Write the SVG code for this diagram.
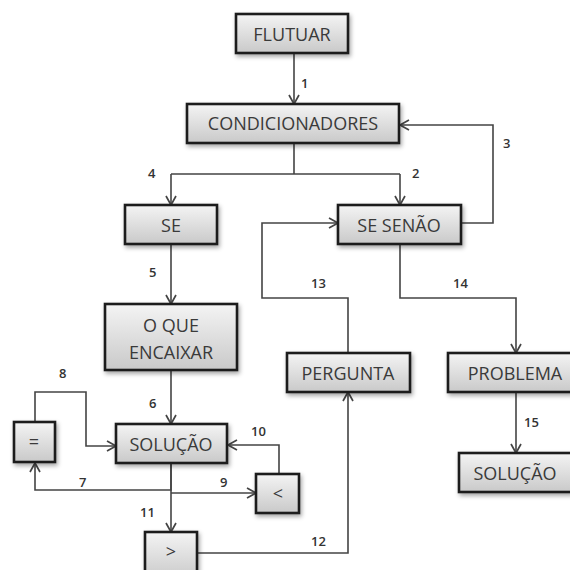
<svg xmlns="http://www.w3.org/2000/svg" width="570" height="570" viewBox="0 0 570 570">
<defs>
<linearGradient id="g" x1="0" y1="0" x2="0" y2="1">
<stop offset="0" stop-color="#f4f4f4"/>
<stop offset="1" stop-color="#c9c9c9"/>
</linearGradient>
<filter id="sh" x="-20%" y="-20%" width="150%" height="160%">
<feDropShadow dx="1.5" dy="2.5" stdDeviation="2" flood-color="#000" flood-opacity="0.35"/>
</filter>
<marker id="ah" markerUnits="userSpaceOnUse" markerWidth="12" markerHeight="14" refX="10" refY="6" orient="auto" viewBox="0 0 12 12">
<path d="M1,1 L10,6 L1,11" fill="none" stroke="#444" stroke-width="1.7"/>
</marker>
</defs>
<style>
rect.b{fill:url(#g);stroke:#1c1c1c;stroke-width:2.6;filter:url(#sh)}
text.t{font-family:"Open Sans","Liberation Sans",sans-serif;font-size:18px;fill:#3a3a3a;text-anchor:middle}
text.n{font-family:"Open Sans","Liberation Sans",sans-serif;font-size:13px;fill:#333;font-weight:600}
path.c{fill:none;stroke:#444;stroke-width:1.6}
path.a{marker-end:url(#ah)}
</style>
<rect width="570" height="570" fill="#fff"/>
<g id="connectors">
<path class="c a" d="M294,53 V104"/>
<path class="c" d="M294,143 V174 M171,174 H400"/>
<path class="c a" d="M171,174 V205"/>
<path class="c a" d="M400,174 V205"/>
<path class="c a" d="M461,223 H493 V125 H400"/>
<path class="c a" d="M171,244 V304"/>
<path class="c a" d="M171,370 V424"/>
<path class="c a" d="M171,463 V490 H35 V463"/>
<path class="c a" d="M35,422 V392 H86 V446 H116"/>
<path class="c a" d="M171,493 H256"/>
<path class="c a" d="M279,474 V445 H228"/>
<path class="c a" d="M171,463 V532"/>
<path class="c a" d="M197,553 H348 V392"/>
<path class="c a" d="M348,353 V298 H262 V223 H338"/>
<path class="c a" d="M400,244 V298 H516 V353"/>
<path class="c a" d="M516,392 V453"/>
<text class="n" x="301" y="88">1</text>
<text class="n" x="412" y="178">2</text>
<text class="n" x="503" y="148">3</text>
<text class="n" x="148" y="178">4</text>
<text class="n" x="149" y="277">5</text>
<text class="n" x="149" y="408">6</text>
<text class="n" x="79" y="487">7</text>
<text class="n" x="59" y="378">8</text>
<text class="n" x="220" y="487">9</text>
<text class="n" x="251" y="436">10</text>
<text class="n" x="140" y="517">11</text>
<text class="n" x="311" y="546">12</text>
<text class="n" x="311" y="288">13</text>
<text class="n" x="453" y="288">14</text>
<text class="n" x="524" y="427">15</text>
</g>
<g id="flutuar"><rect class="b" x="236" y="14" width="112" height="39"/><text class="t" x="292" y="40.5">FLUTUAR</text></g>
<g id="condicionadores"><rect class="b" x="187" y="104" width="212" height="39"/><text class="t" x="293" y="130">CONDICIONADORES</text></g>
<g id="se"><rect class="b" x="125" y="205" width="92" height="39"/><text class="t" x="171" y="231.5">SE</text></g>
<g id="se-senao"><rect class="b" x="338" y="205" width="123" height="39"/><text class="t" x="399" y="231.5">SE SENÃO</text></g>
<g id="o-que-encaixar"><rect class="b" x="105" y="304" width="132" height="66"/><text class="t" x="171" y="331.5">O QUE</text><text class="t" x="171" y="358.5">ENCAIXAR</text></g>
<g id="pergunta"><rect class="b" x="287" y="353" width="123" height="39"/><text class="t" x="348" y="379.5">PERGUNTA</text></g>
<g id="problema"><rect class="b" x="448" y="353" width="134" height="39"/><text class="t" x="515" y="379.5">PROBLEMA</text></g>
<g id="igual"><rect class="b" x="14" y="422" width="41" height="40"/><text class="t" x="34" y="448">=</text></g>
<g id="solucao"><rect class="b" x="116" y="424" width="111" height="39"/><text class="t" x="171" y="450.5">SOLUÇÃO</text></g>
<g id="menor"><rect class="b" x="256" y="474" width="43" height="39"/><text class="t" x="278" y="500">&lt;</text></g>
<g id="maior"><rect class="b" x="145" y="532" width="52" height="48"/><text class="t" x="171" y="558">&gt;</text></g>
<g id="solucao2"><rect class="b" x="459" y="453" width="113" height="39"/><text class="t" x="515" y="479.5">SOLUÇÃO</text></g>
</svg>
